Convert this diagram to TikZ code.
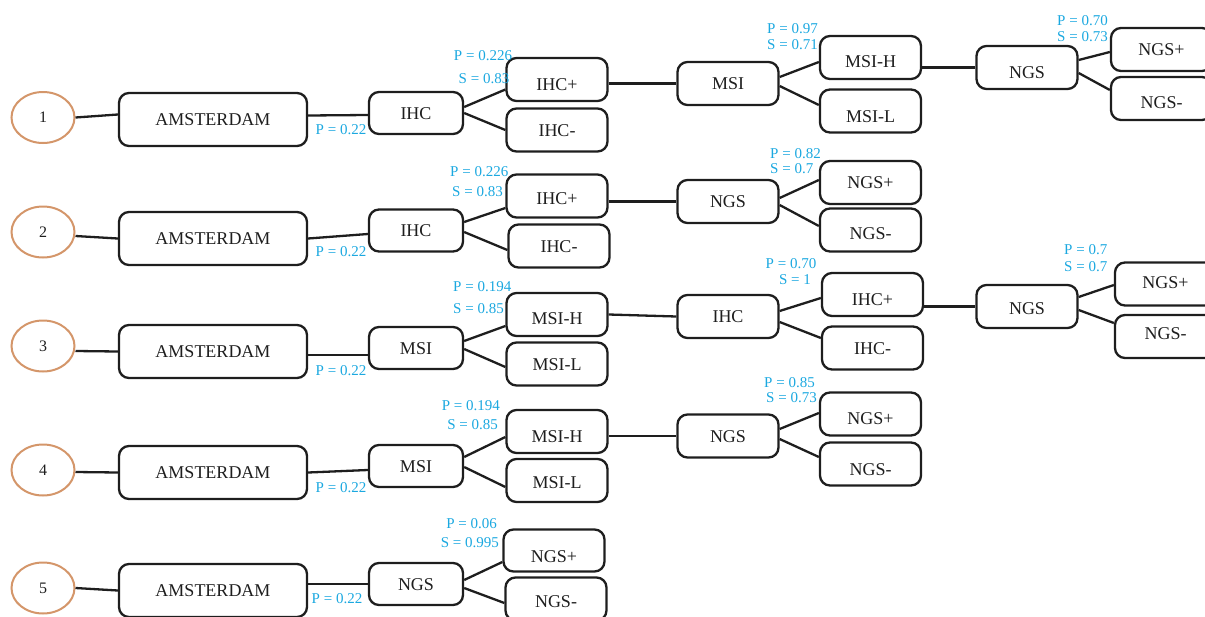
\documentclass[tikz,border=0pt]{standalone}
\usepackage{fontspec}
\setmainfont{Liberation Serif}
\usetikzlibrary{shapes.geometric,calc}
\definecolor{circ}{RGB}{212,150,106}
\definecolor{lbl}{RGB}{27,168,224}
\definecolor{ink}{RGB}{30,30,30}
\begin{document}
\begin{tikzpicture}[x=1pt,y=-1pt,
 box/.style={draw=ink, line width=2.3pt, rounded corners=10pt, text=ink, font=\fontsize{18}{18}\selectfont, inner sep=0pt, text height=12pt, text depth=0pt, minimum height=43pt},
 wA/.style={minimum width=188pt, minimum height=53pt},
 wB/.style={minimum width=94pt, minimum height=42pt},
 wC/.style={minimum width=101pt},
 num/.style={ellipse, draw=circ, line width=2pt, minimum width=63pt, minimum height=51pt, inner sep=0pt, font=\fontsize{16}{16}\selectfont, text=ink},
 lab/.style={text=lbl, font=\fontsize{15}{15}\selectfont, inner sep=0pt, text height=10pt, text depth=0pt},
 conn/.style={draw=ink, line width=2.3pt},
 sh/.style={text height=#1}]
\useasboundingbox (0,0) rectangle (1205,616);

% ---------- row 1
\node[num] (c1) at (43,117.5) {1};
\node[box,wA] (a1) at (213,119.5) {AMSTERDAM};
\node[box,wB] (b1) at (416,113) {IHC};
\node[box,wC,sh=22pt] (b1p) at (557,79.5) {IHC+};
\node[box,wC] (b1m) at (557,130) {IHC-};
\node[box,wC] (d1) at (728,83.5) {MSI};
\node[box,wC,sh=20pt] (d1p) at (870.5,57.5) {MSI-H};
\node[box,wC,sh=22pt] (d1m) at (870.5,111) {MSI-L};
\node[box,wC,sh=22pt] (e1) at (1027,67.5) {NGS};
\node[box,wC] (e1p) at (1161.5,49.5) {NGS+};
\node[box,wC,sh=19pt] (e1m) at (1161.5,98.5) {NGS-};
\draw[conn] (c1.east) -- ($(a1.west)+(0,-5)$);
\draw[conn] ($(a1.east)+(0,-4)$) -- ($(b1.west)+(0,2)$);
\draw[conn] ($(b1.east)+(0,-6)$) -- ($(b1p.west)+(0,10)$);
\draw[conn] (b1.east) -- (b1m.west);
\draw[conn] (d1.west -| b1p.east) -- (d1.west);
\draw[conn] ($(d1.east)+(0,-6.5)$) -- ($(d1p.west)+(0,4.5)$);
\draw[conn] ($(d1.east)+(0,2.5)$) -- ($(d1m.west)+(0,-6)$);
\draw[conn] (e1.west -| d1p.east) -- (e1.west);
\draw[conn] ($(e1.east)+(0,-7.5)$) -- ($(e1p.west)+(0,2.5)$);
\draw[conn] ($(e1.east)+(0,5.5)$) -- ($(e1m.west)+(0,-8.5)$);

% ---------- row 2
\node[num] (c2) at (43,232) {2};
\node[box,wA] (a2) at (213,238.5) {AMSTERDAM};
\node[box,wB] (b2) at (416,230.5) {IHC};
\node[box,wC,sh=17pt] (b2p) at (557,196) {IHC+};
\node[box,wC] (b2m) at (559,246) {IHC-};
\node[box,wC] (d2) at (728,201.5) {NGS};
\node[box,wC] (d2p) at (870.5,182.5) {NGS+};
\node[box,wC,sh=18pt] (d2m) at (870.5,230) {NGS-};
\draw[conn] ($(c2.east)+(0,4)$) -- (a2.west);
\draw[conn] (a2.east) -- ($(b2.west)+(0,3.5)$);
\draw[conn] ($(b2.east)+(0,-8.5)$) -- ($(b2p.west)+(0,12)$);
\draw[conn] ($(b2.east)+(0,1.5)$) -- ($(b2m.west)+(0,4)$);
\draw[conn] (d2.west -| b2p.east) -- (d2.west);
\draw[conn] ($(d2.east)+(0,-3.5)$) -- ($(d2p.west)+(0,-2.5)$);
\draw[conn] ($(d2.east)+(0,3.5)$) -- ($(d2m.west)+(0,-4)$);

% ---------- row 3
\node[num] (c3) at (43,346) {3};
\node[box,wA] (a3) at (213,351.5) {AMSTERDAM};
\node[box,wB] (b3) at (416,348) {MSI};
\node[box,wC,sh=20pt] (b3p) at (557,314.5) {MSI-H};
\node[box,wC] (b3m) at (557,364) {MSI-L};
\node[box,wC] (d3) at (728,316.5) {IHC};
\node[box,wC,sh=21pt] (d3p) at (872.5,294.5) {IHC+};
\node[box,wC] (d3m) at (872.5,348) {IHC-};
\node[box,wC,sh=16pt] (e3) at (1027,306.5) {NGS};
\node[box,wC,text depth=4pt] (e3p) at (1165.5,284) {NGS+};
\node[box,wC,text depth=6pt] (e3m) at (1165.5,336.5) {NGS-};
\draw[conn] ($(c3.east)+(0,5)$) -- (a3.west);
\draw[conn] ($(a3.east)+(0,3.5)$) -- ($(b3.west)+(0,7)$);
\draw[conn] ($(b3.east)+(0,-7)$) -- ($(b3p.west)+(0,11.5)$);
\draw[conn] ($(b3.east)+(0,1)$) -- ($(b3m.west)+(0,3)$);
\draw[conn] (b3p.east) -- (d3.west);
\draw[conn] ($(d3.east)+(0,-5.5)$) -- ($(d3p.west)+(0,3.5)$);
\draw[conn] ($(d3.east)+(0,5.5)$) -- ($(d3m.west)+(0,-10)$);
\draw[conn] (e3.west -| d3p.east) -- (e3.west);
\draw[conn] ($(e3.east)+(0,-9.5)$) -- ($(e3p.west)+(0,1)$);
\draw[conn] ($(e3.east)+(0,3.5)$) -- ($(e3m.west)+(0,-13.5)$);

% ---------- row 4
\node[num] (c4) at (43,470) {4};
\node[box,wA] (a4) at (213,472.5) {AMSTERDAM};
\node[box,wB] (b4) at (416,466) {MSI};
\node[box,wC,sh=21pt] (b4p) at (557,431.5) {MSI-H};
\node[box,wC,sh=15pt] (b4m) at (557,480.5) {MSI-L};
\node[box,wC] (d4) at (728,436) {NGS};
\node[box,wC,sh=21pt] (d4p) at (870.5,414) {NGS+};
\node[box,wC,sh=22pt] (d4m) at (870.5,464) {NGS-};
\draw[conn] ($(c4.east)+(0,2)$) -- (a4.west);
\draw[conn] (a4.east) -- ($(b4.west)+(0,4)$);
\draw[conn] ($(b4.east)+(0,-9)$) -- ($(b4p.west)+(0,5.5)$);
\draw[conn] ($(b4.east)+(0,1)$) -- ($(b4m.west)+(0,6.5)$);
\draw[conn] (d4.west -| b4p.east) -- (d4.west);
\draw[conn] ($(d4.east)+(0,-7)$) -- ($(d4p.west)+(0,-1)$);
\draw[conn] ($(d4.east)+(0,3)$) -- ($(d4m.west)+(0,-7)$);

% ---------- row 5
\node[num] (c5) at (43,588) {5};
\node[box,wA] (a5) at (213,590.5) {AMSTERDAM};
\node[box,wB] (b5) at (416,584) {NGS};
\node[box,wC,minimum height=42pt,sh=23pt] (b5p) at (554,550.5) {NGS+};
\node[box,wC,sh=16pt] (b5m) at (556,599) {NGS-};
\draw[conn] (c5.east) -- (a5.west);
\draw[conn] (b5.west -| a5.east) -- (b5.west);
\draw[conn] ($(b5.east)+(0,-4)$) -- ($(b5p.west)+(0,11.5)$);
\draw[conn] ($(b5.east)+(0,4)$) -- ($(b5m.west)+(0,4)$);

% ---------- labels
\node[lab] (p1a) at (341,129) {P = 0.22};
\node[lab] (p1b) at (483,55) {P = 0.226};
\node[lab] (s1b) at (484,78) {S = 0.83};
\node[lab,anchor=west] (p1c) at (767,28) {P = 0.97};
\node[lab,anchor=west] (s1c) at (767,44) {S = 0.71};
\node[lab,anchor=west] (p1d) at (1057,20) {P = 0.70};
\node[lab,anchor=west] (s1d) at (1057,36) {S = 0.73};

\node[lab] (p2a) at (341,251) {P = 0.22};
\node[lab,anchor=west] (p2b) at (450,171) {P = 0.226};
\node[lab,anchor=west] (s2b) at (452,191) {S = 0.83};
\node[lab,anchor=west] (p2c) at (770,153) {P = 0.82};
\node[lab,anchor=west] (s2c) at (770,168) {S = 0.7};

\node[lab] (p3a) at (341,370) {P = 0.22};
\node[lab,anchor=west] (p3b) at (453,286) {P = 0.194};
\node[lab,anchor=west] (s3b) at (453,308) {S = 0.85};
\node[lab] (p3c) at (791,263) {P = 0.70};
\node[lab] (s3c) at (795,279) {S = 1};
\node[lab,anchor=west] (p3d) at (1064,249) {P = 0.7};
\node[lab,anchor=west] (s3d) at (1064,266) {S = 0.7};

\node[lab] (p4a) at (341,487) {P = 0.22};
\node[lab,anchor=east] (p4b) at (500,405) {P = 0.194};
\node[lab,anchor=east] (s4b) at (498,424) {S = 0.85};
\node[lab,anchor=west] (p4c) at (764,382) {P = 0.85};
\node[lab,anchor=west] (s4c) at (766,397) {S = 0.73};

\node[lab] (p5a) at (337,598) {P = 0.22};
\node[lab,anchor=east] (p5b) at (497,523) {P = 0.06};
\node[lab,anchor=east] (s5b) at (499,542) {S = 0.995};
\end{tikzpicture}
\end{document}
